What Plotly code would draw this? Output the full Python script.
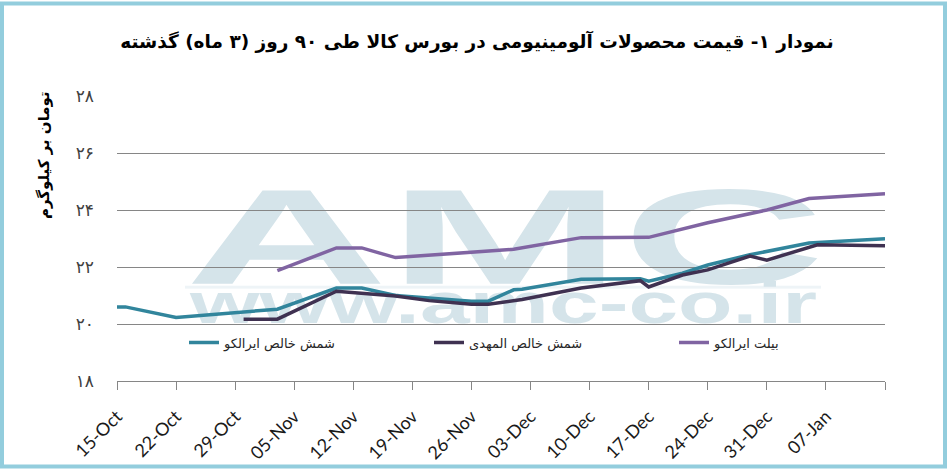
import base64
import plotly.graph_objects as go

# series 1: شمش خالص ایرالکو
iralco_ingot_dates = ['2018-10-15', '2018-10-16', '2018-10-22', '2018-11-03', '2018-11-10', '2018-11-13',
                      '2018-11-17', '2018-11-22', '2018-11-26', '2018-11-28', '2018-12-01', '2018-12-02',
                      '2018-12-09', '2018-12-16', '2018-12-17', '2018-12-21', '2018-12-24', '2018-12-29',
                      '2019-01-05', '2019-01-14']
iralco_ingot_values = [20.6, 20.6, 20.23, 20.52, 21.26, 21.26,
                       21.0, 20.9, 20.8, 20.8, 21.2, 21.22,
                       21.57, 21.59, 21.5, 21.78, 22.07, 22.43,
                       22.84, 22.99]

# series 2: شمش خالص المهدی
almahdi_ingot_dates = ['2018-10-30', '2018-11-03', '2018-11-10', '2018-11-17', '2018-11-21', '2018-11-26',
                       '2018-11-28', '2018-12-02', '2018-12-09', '2018-12-16', '2018-12-17', '2018-12-21',
                       '2018-12-24', '2018-12-29', '2018-12-31', '2019-01-06', '2019-01-14']
almahdi_ingot_values = [20.17, 20.17, 21.15, 20.98, 20.82, 20.69,
                        20.69, 20.86, 21.26, 21.52, 21.3, 21.72,
                        21.9, 22.38, 22.24, 22.78, 22.75]

# series 3: بیلت ایرالکو
iralco_billet_dates = ['2018-11-03', '2018-11-10', '2018-11-13', '2018-11-17', '2018-12-01', '2018-12-09',
                       '2018-12-17', '2018-12-24', '2018-12-31', '2019-01-05', '2019-01-14']
iralco_billet_values = [21.87, 22.67, 22.67, 22.33, 22.62, 23.03,
                        23.04, 23.55, 24.0, 24.4, 24.57]

series_names = ['شمش خالص ایرالکو', 'شمش خالص المهدی', 'بیلت ایرالکو']
series_colors = ['#31859C', '#3F3151', '#8064A2']

tick_dates = ['2018-10-15', '2018-10-22', '2018-10-29', '2018-11-05', '2018-11-12', '2018-11-19', '2018-11-26',
              '2018-12-03', '2018-12-10', '2018-12-17', '2018-12-24', '2018-12-31', '2019-01-07', '2019-01-14']
tick_labels = ['15-Oct', '22-Oct', '29-Oct', '05-Nov', '12-Nov', '19-Nov', '26-Nov',
               '03-Dec', '10-Dec', '17-Dec', '24-Dec', '31-Dec', '07-Jan', '']

y_ticks = [18, 20, 22, 24, 26, 28]
y_tick_labels = ['۱۸', '۲۰', '۲۲', '۲۴', '۲۶', '۲۸']

title_text = 'نمودار ۱- قیمت محصولات آلومینیومی در بورس کالا طی ۹۰ روز (۳ ماه) گذشته'
y_title_text = 'تومان بر کیلوگرم'

# page geometry (pixels)
W, H = 947, 475
ML, MR, MT, MB = 117, 62, 96, 89
PW, PH = W - ML - MR, H - MT - MB


def px_x(x):
    return (x - ML) / PW


def px_y(y):
    return 1 - (y - MT) / PH


# watermark as a stretched svg text
wm_svg = (
    "<svg xmlns='http://www.w3.org/2000/svg' width='640' height='142' viewBox='0 0 640 142'>"
    "<text x='0' y='99' font-family='Liberation Sans' font-weight='bold' font-size='138' fill='#d5e4ea' "
    "textLength='640' lengthAdjust='spacingAndGlyphs'>AMC</text>"
    "<rect x='0' y='101' width='636' height='3' fill='#eef4f7'/>"
    "<text x='5' y='139' font-family='Liberation Sans' font-weight='bold' font-size='58' fill='#d5e4ea' "
    "textLength='627' lengthAdjust='spacingAndGlyphs'>www.amc-co.ir</text>"
    "</svg>"
)
wm_src = 'data:image/svg+xml;base64,' + base64.b64encode(wm_svg.encode('utf-8')).decode('ascii')

fig = go.Figure()
all_dates = [iralco_ingot_dates, almahdi_ingot_dates, iralco_billet_dates]
all_values = [iralco_ingot_values, almahdi_ingot_values, iralco_billet_values]
for name, color, d, v in zip(series_names, series_colors, all_dates, all_values):
    fig.add_trace(go.Scatter(x=d, y=v, name=name, mode='lines',
                             line=dict(color=color, width=3.5)))

fig.update_layout(
    width=W, height=H,
    autosize=False,
    margin=dict(l=ML, r=MR, t=MT, b=MB, pad=0),
    paper_bgcolor='white',
    plot_bgcolor='rgba(0,0,0,0)',
    font=dict(family='DejaVu Sans', color='#262626'),
    title=dict(text='<b>' + title_text + '</b>', x=477 / W, xanchor='center', xref='container',
               y=1 - 42 / H, yanchor='middle', yref='container',
               font=dict(size=18.5, color='black', family='DejaVu Sans')),
    showlegend=True,
    legend=dict(orientation='h', x=px_x(184), y=px_y(347), xanchor='left', yanchor='middle',
                entrywidth=200, entrywidthmode='pixels', bgcolor='rgba(0,0,0,0)',
                font=dict(size=13, color='#262626', family='DejaVu Sans')),
    images=[dict(source=wm_src, xref='paper', yref='paper', x=px_x(185), y=px_y(188),
                 sizex=640 / PW, sizey=142 / PH, xanchor='left', yanchor='top',
                 sizing='stretch', layer='below')],
    annotations=[dict(text='<b>' + y_title_text + '</b>', xref='paper', yref='paper',
                      x=px_x(44), y=px_y(156), xanchor='center', yanchor='middle',
                      showarrow=False, textangle=-90,
                      font=dict(size=15, color='black', family='DejaVu Sans'))],
    shapes=[dict(type='rect', xref='paper', yref='paper',
                 x0=px_x(2), x1=px_x(W - 2), y0=px_y(H - 2), y1=px_y(2),
                 line=dict(color='#93cddd', width=4))],
)

fig.update_xaxes(
    type='date',
    range=[tick_dates[0], tick_dates[-1]],
    tickvals=tick_dates, ticktext=tick_labels,
    tickangle=-45,
    ticks='outside', ticklen=8, tickcolor='#868686',
    showline=True, linecolor='#868686', linewidth=1,
    showgrid=False, zeroline=False,
    ticklabelstandoff=9,
    tickfont=dict(size=18, color='#1a1a1a', family='Lato'),
)
fig.update_yaxes(
    range=[18, 28],
    tickvals=y_ticks, ticktext=y_tick_labels,
    showgrid=True, gridcolor='#868686', gridwidth=1,
    zeroline=False, showline=False, ticks='',
    ticklabelstandoff=22,
    tickfont=dict(size=17, color='#404040', family='DejaVu Sans'),
)

# page body has a default margin, drop it so the figure sits at the top-left corner
fig.write_html("out.html", config={"displayModeBar": False},
               post_script="document.body.style.margin='0';document.body.style.padding='0';"
                           "document.body.style.overflow='hidden';")
